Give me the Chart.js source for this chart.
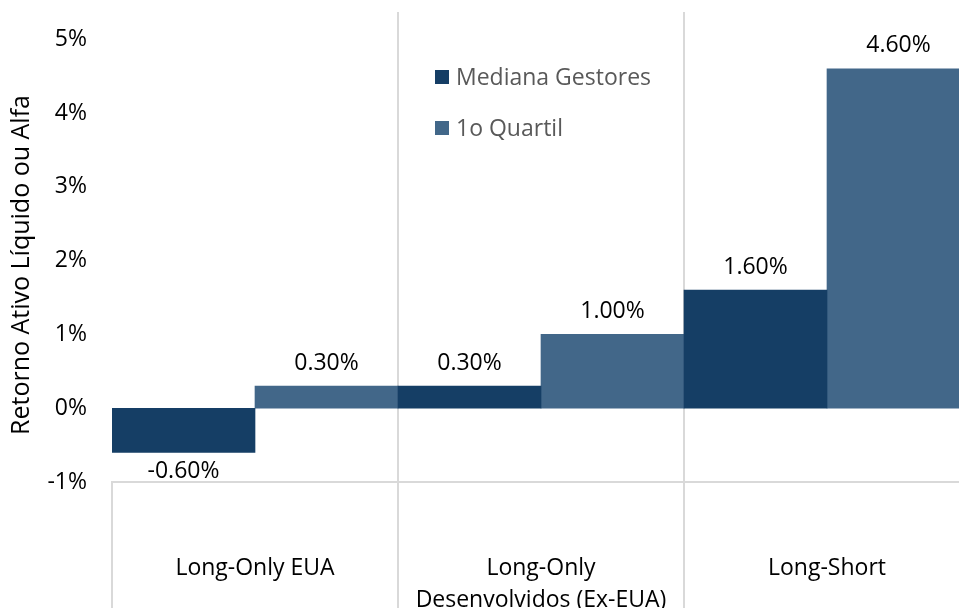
<!DOCTYPE html>
<html>
<head>
<meta charset="utf-8">
<script src="https://cdn.jsdelivr.net/npm/chart.js@4"></script>
<style>
  html, body { margin: 0; padding: 0; background: #fff; overflow: hidden; }
  #wrap { width: 959px; height: 608px; overflow: hidden; }
</style>
</head>
<body>
<div id="wrap"><canvas id="alphaChart" width="970" height="650"></canvas></div>
<script>
const categories = ['Long-Only EUA', ['Long-Only', 'Desenvolvidos (Ex-EUA)'], 'Long-Short'];
const seriesNames = ['Mediana Gestores', '1o Quartil'];
const medianaGestores = [-0.6, 0.3, 1.6];
const primeiroQuartil = [0.3, 1.0, 4.6];
const yTicks = [-1, 0, 1, 2, 3, 4, 5];
const yTitle = 'Retorno Ativo Líquido ou Alfa';

const FONT = '"Open Sans", "Noto Sans", sans-serif';
const gridGray = '#d9d9d9';

// value labels above / below each bar
const valueLabels = {
    id: 'valueLabels',
    afterDatasetsDraw(chart) {
        const ctx = chart.ctx;
        ctx.save();
        ctx.font = `23px ${FONT}`;
        ctx.fillStyle = '#000';
        ctx.textAlign = 'center';
        ctx.textBaseline = 'middle';
        chart.data.datasets.forEach((ds, i) => {
            chart.getDatasetMeta(i).data.forEach((bar, j) => {
                const v = ds.data[j];
                const y = v >= 0 ? bar.y - 23 : bar.y + 19;
                ctx.fillText(v.toFixed(2) + '%', bar.x, y);
            });
        });
        ctx.restore();
    }
};

// legend inside plot + rotated axis title
const extras = {
    id: 'extras',
    afterDraw(chart) {
        const ctx = chart.ctx;
        ctx.save();
        ctx.font = `23px ${FONT}`;
        ctx.textBaseline = 'middle';
        chart.data.datasets.forEach((ds, i) => {
            const y = 77 + i * 51;
            ctx.fillStyle = ds.backgroundColor;
            ctx.fillRect(435, y - 7, 14, 14);
            ctx.fillStyle = '#595959';
            ctx.textAlign = 'left';
            ctx.fillText(ds.label, 456, y + 1);
        });

        ctx.font = `25px ${FONT}`;
        ctx.translate(22, 265);
        ctx.rotate(-Math.PI / 2);
        ctx.textAlign = 'center';
        ctx.fillStyle = '#000';
        ctx.fillText(yTitle, 0, 0);
        ctx.restore();
    }
};

const ctx = document.getElementById('alphaChart').getContext('2d');

new Chart(ctx, {
    type: 'bar',
    data: {
        labels: categories,
        datasets: [
            { label: seriesNames[0], data: medianaGestores, backgroundColor: '#153e65' },
            { label: seriesNames[1], data: primeiroQuartil, backgroundColor: '#426789' }
        ]
    },
    options: {
        responsive: false,
        animation: false,
        layout: { padding: { top: 12, left: 0, right: 0, bottom: 0 } },
        datasets: {
            bar: { categoryPercentage: 1, barPercentage: 1 }
        },
        plugins: {
            legend: { display: false },
            tooltip: { enabled: false }
        },
        scales: {
            x: {
                offset: true,
                grid: {
                    offset: true,
                    color: c => c.index === 0 ? 'rgba(0,0,0,0)' : gridGray,
                    tickColor: gridGray,
                    lineWidth: 2,
                    tickLength: 170
                },
                border: { display: true, color: gridGray, width: 2 },
                ticks: {
                    color: '#000',
                    font: { family: FONT, size: 23, lineHeight: 1.39 },
                    padding: -100,
                    maxRotation: 0
                },
                afterFit: s => { s.height = 650 - 482; }
            },
            y: {
                min: -1,
                max: 5.37,
                grid: { display: false, drawTicks: true, tickLength: 25 },
                border: { display: false },
                afterBuildTicks: s => { s.ticks = yTicks.map(v => ({ value: v })); },
                ticks: {
                    color: '#000',
                    font: { family: FONT, size: 23, lineHeight: 1 },
                    padding: 0,
                    callback: v => v + '%'
                },
                afterFit: s => { s.width = 112; }
            }
        }
    },
    plugins: [valueLabels, extras]
});
</script>
</body>
</html>
